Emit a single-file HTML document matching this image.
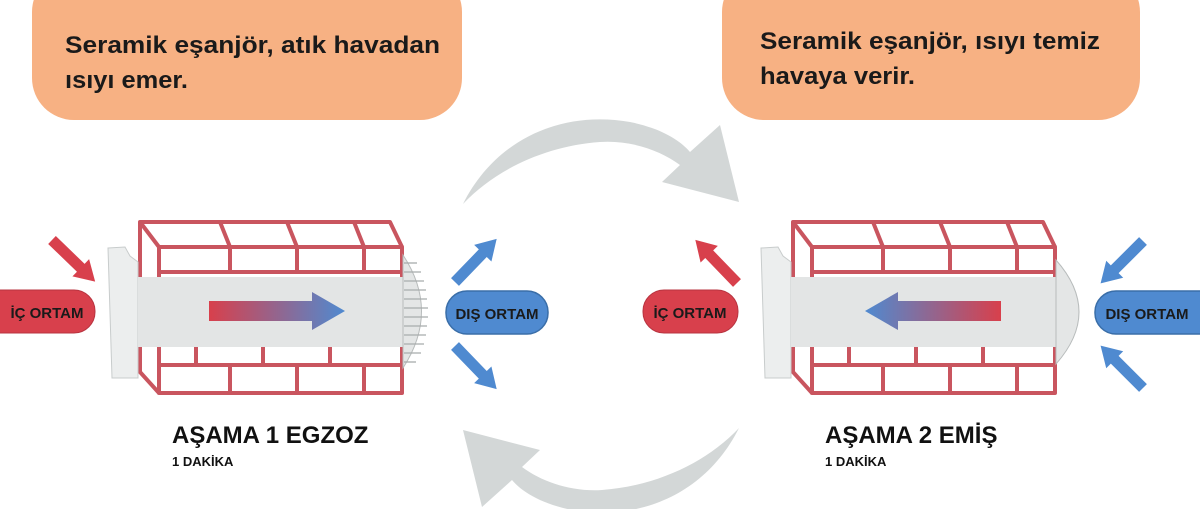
<!DOCTYPE html>
<html><head><meta charset="utf-8"><style>
html,body{margin:0;padding:0;background:#fff;}
svg{display:block;}
text{font-family:"Liberation Sans","DejaVu Sans",sans-serif;font-weight:bold;}
</style></head><body>
<svg width="1200" height="509" viewBox="0 0 1200 509" xmlns="http://www.w3.org/2000/svg">
<defs>
<linearGradient id="gr" x1="0" x2="1" y1="0" y2="0"><stop offset="0" stop-color="#d8404c"/><stop offset="1" stop-color="#4f8ad0"/></linearGradient>
<linearGradient id="gl" x1="1" x2="0" y1="0" y2="0"><stop offset="0" stop-color="#d8404c"/><stop offset="1" stop-color="#4f8ad0"/></linearGradient>
<polygon id="da" points="0,-5.5 40,-5.5 40,-12 60,0 40,12 40,5.5 0,5.5"/>
<g id="bricks" fill="none" stroke="#c9555f" stroke-width="4" stroke-linejoin="round">
  <polyline points="159,393 140,372 140,222 390,222 402,247"/>
  <rect x="159" y="247" width="243" height="146" fill="#fff"/>
  <line x1="140" y1="222" x2="159" y2="247"/>
  <line x1="220" y1="222" x2="230" y2="247"/>
  <line x1="287" y1="222" x2="297" y2="247"/>
  <line x1="354" y1="222" x2="364" y2="247"/>
  <line x1="159" y1="272" x2="402" y2="272"/>
  <line x1="230" y1="247" x2="230" y2="272"/>
  <line x1="297" y1="247" x2="297" y2="272"/>
  <line x1="364" y1="247" x2="364" y2="272"/>
  <line x1="159" y1="365" x2="402" y2="365"/>
  <line x1="196" y1="345" x2="196" y2="365"/>
  <line x1="263" y1="345" x2="263" y2="365"/>
  <line x1="330" y1="345" x2="330" y2="365"/>
  <line x1="230" y1="365" x2="230" y2="393"/>
  <line x1="297" y1="365" x2="297" y2="393"/>
  <line x1="364" y1="365" x2="364" y2="393"/>
</g>
</defs>

<rect x="32" y="-30" width="430" height="150" rx="42" fill="#f7b183"/>
<rect x="722" y="-30" width="418" height="150" rx="42" fill="#f7b183"/>
<text x="65" y="53" font-size="24" fill="#1a1a1a" textLength="375" lengthAdjust="spacingAndGlyphs">Seramik eşanjör, atık havadan</text>
<text x="65" y="88" font-size="24" fill="#1a1a1a" textLength="123" lengthAdjust="spacingAndGlyphs">ısıyı emer.</text>
<text x="760" y="49" font-size="24" fill="#1a1a1a" textLength="340" lengthAdjust="spacingAndGlyphs">Seramik eşanjör, ısıyı temiz</text>
<text x="760" y="84" font-size="24" fill="#1a1a1a" textLength="155" lengthAdjust="spacingAndGlyphs">havaya verir.</text>

<g fill="#d3d7d7">
<path id="carr" d="M463,204 C495,140 560,110 630,122 C660,128 680,140 690,152 L720,125 L739,202 L662,182 L680,165 C660,150 630,140 600,142 C545,146 495,170 463,204 Z"/>
<use href="#carr" transform="rotate(180 601 316)"/>
</g>

<use href="#bricks"/>
<path d="M108,248 L125,247 L130,256 L138,262 L138,378 L112,378 Z" fill="#eceeee" stroke="#c8cccc" stroke-width="1"/>
<rect x="138" y="277" width="266" height="70" fill="#e3e5e5"/>
<path d="M403,255 Q440,311 403,368 Z" fill="#e4e6e6" stroke="#b8bcbc" stroke-width="1"/>
<g stroke="#a8acac" stroke-width="1.3">
<line x1="404" y1="263" x2="417" y2="263"/><line x1="404" y1="272" x2="421" y2="272"/><line x1="404" y1="281" x2="424" y2="281"/><line x1="404" y1="290" x2="426" y2="290"/><line x1="404" y1="299" x2="427" y2="299"/><line x1="404" y1="308" x2="428" y2="308"/><line x1="404" y1="317" x2="428" y2="317"/><line x1="404" y1="326" x2="427" y2="326"/><line x1="404" y1="335" x2="426" y2="335"/><line x1="404" y1="344" x2="424" y2="344"/><line x1="404" y1="353" x2="421" y2="353"/><line x1="404" y1="362" x2="416" y2="362"/>
</g>
<polygon points="209,301 312,301 312,292 345,311 312,330 312,321 209,321" fill="url(#gr)"/>
<use href="#da" fill="#d8404c" transform="translate(52,240) rotate(44)"/>
<use href="#da" fill="#4f8ad0" transform="translate(455,282) rotate(-46)"/>
<use href="#da" fill="#4f8ad0" transform="translate(455,346) rotate(46)"/>
<rect x="-20" y="290" width="115" height="43" rx="21" fill="#d8404c" stroke="#b83440" stroke-width="1"/>
<text x="47" y="318" font-size="15" text-anchor="middle" fill="#1a1a1a">İÇ ORTAM</text>
<rect x="446" y="291" width="102" height="43" rx="21" fill="#4f8ad0" stroke="#3a6ea8" stroke-width="1.5"/>
<text x="497" y="319" font-size="15" text-anchor="middle" fill="#1a1a1a">DIŞ ORTAM</text>
<text x="172" y="443" font-size="24" fill="#111">AŞAMA 1 EGZOZ</text>
<text x="172" y="466" font-size="13" fill="#111">1 DAKİKA</text>

<use href="#bricks" transform="translate(653,0)"/>
<path d="M761,248 L778,247 L783,256 L791,262 L791,378 L765,378 Z" fill="#eceeee" stroke="#c8cccc" stroke-width="1"/>
<rect x="791" y="277" width="266" height="70" fill="#e3e5e5"/>
<path d="M1056,260 Q1102,312 1056,364 Z" fill="#e4e6e6" stroke="#b8bcbc" stroke-width="1"/>
<polygon points="1001,301 898,301 898,292 865,311 898,330 898,321 1001,321" fill="url(#gl)"/>
<use href="#da" fill="#d8404c" transform="translate(737,283) rotate(-134)"/>
<use href="#da" fill="#4f8ad0" transform="translate(1143,241) rotate(135)"/>
<use href="#da" fill="#4f8ad0" transform="translate(1143,388) rotate(-135)"/>
<rect x="643" y="290" width="95" height="43" rx="21" fill="#d8404c" stroke="#b83440" stroke-width="1"/>
<text x="690" y="318" font-size="15" text-anchor="middle" fill="#1a1a1a">İÇ ORTAM</text>
<rect x="1095" y="291" width="125" height="43" rx="21" fill="#4f8ad0" stroke="#3a6ea8" stroke-width="1.5"/>
<text x="1147" y="319" font-size="15" text-anchor="middle" fill="#1a1a1a">DIŞ ORTAM</text>
<text x="825" y="443" font-size="24" fill="#111">AŞAMA 2 EMİŞ</text>
<text x="825" y="466" font-size="13" fill="#111">1 DAKİKA</text>
</svg>
</body></html>
